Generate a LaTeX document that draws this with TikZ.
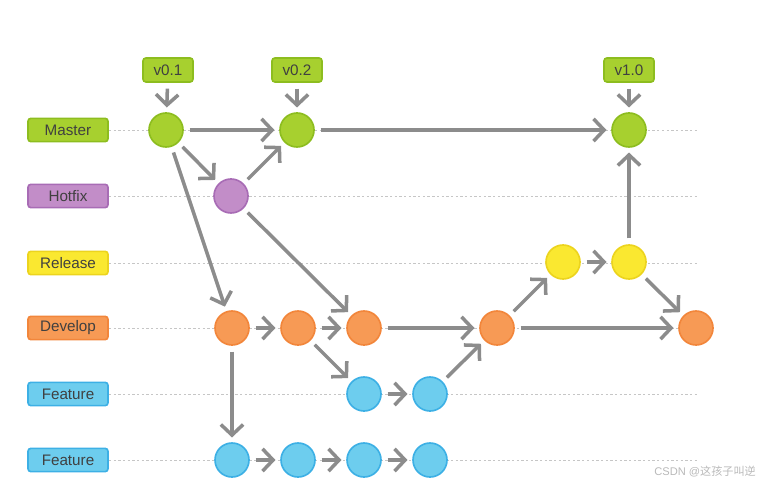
\documentclass[tikz,border=0pt]{standalone}
\usepackage{fontspec}
\setmainfont{Liberation Sans}
\newfontfamily\cjkfont{Noto Sans CJK SC}
\usetikzlibrary{arrows.meta}
\usetikzlibrary{backgrounds}

\definecolor{greenfill}{HTML}{A7D02F}
\definecolor{greenline}{HTML}{8DBD1F}
\definecolor{purplefill}{HTML}{C28DC8}
\definecolor{purpleline}{HTML}{A86CB5}
\definecolor{yellowfill}{HTML}{FAE830}
\definecolor{yellowline}{HTML}{ECD41E}
\definecolor{orangefill}{HTML}{F79A55}
\definecolor{orangeline}{HTML}{F2863B}
\definecolor{bluefill}{HTML}{6DCDEE}
\definecolor{blueline}{HTML}{3DB0E5}
\definecolor{arrowgray}{HTML}{8C8C8C}

\begin{document}
\begin{tikzpicture}[x=0.03cm,y=-0.03cm,
	commit/.style={circle,draw,line width=1.4pt,minimum size=1.02cm,inner sep=0pt},
	branch/.style={rounded corners=2.5pt,draw,line width=1.4pt,minimum width=2.4cm,
		minimum height=0.7cm,inner sep=0pt,text=black!75,font=\fontsize{13}{15}\selectfont},
	tag/.style={branch,minimum width=1.5cm,minimum height=0.72cm,fill=greenfill,draw=greenline},
	flow/.style={-{Straight Barb[length=9pt,width=19pt]},line width=3pt,draw=arrowgray,
		shorten >=4pt,shorten <=5pt},
	guide/.style={draw=gray!45,line width=0.6pt,dash pattern=on 2pt off 2pt}]
	
	\useasboundingbox (0,0) rectangle (764,487);
	
	% branch labels on the left
	\node[branch,fill=greenfill,draw=greenline]   (master)  at (68,130) {Master};
	\node[branch,fill=purplefill,draw=purpleline] (hotfix)  at (68,196) {Hotfix};
	\node[branch,fill=yellowfill,draw=yellowline] (release) at (68,263) {Release};
	\node[branch,fill=orangefill,draw=orangeline] (develop) at (68,328) {Develop};
	\node[branch,fill=bluefill,draw=blueline]     (featA)   at (68,394) {Feature};
	\node[branch,fill=bluefill,draw=blueline]     (featB)   at (68,460) {Feature};
	
	\coordinate (master-end)  at (697,130);
	\coordinate (hotfix-end)  at (697,196);
	\coordinate (release-end) at (697,263);
	\coordinate (develop-end) at (697,328);
	\coordinate (featA-end)   at (697,394);
	\coordinate (featB-end)   at (697,460);
	
	% tags
	\node[tag] (v01) at (168,70) {v0.1};
	\node[tag] (v02) at (297,70) {v0.2};
	\node[tag] (v10) at (629,70) {v1.0};
	
	% commits
	\node[commit,fill=greenfill,draw=greenline] (m1) at (166,130) {};
	\node[commit,fill=greenfill,draw=greenline] (m2) at (297,130) {};
	\node[commit,fill=greenfill,draw=greenline] (m3) at (629,130) {};
	
	\node[commit,fill=purplefill,draw=purpleline] (h1) at (231,196) {};
	
	\node[commit,fill=yellowfill,draw=yellowline] (r1) at (563,262) {};
	\node[commit,fill=yellowfill,draw=yellowline] (r2) at (629,262) {};
	
	\node[commit,fill=orangefill,draw=orangeline] (d1) at (232,328) {};
	\node[commit,fill=orangefill,draw=orangeline] (d2) at (298,328) {};
	\node[commit,fill=orangefill,draw=orangeline] (d3) at (364,328) {};
	\node[commit,fill=orangefill,draw=orangeline] (d4) at (497,328) {};
	\node[commit,fill=orangefill,draw=orangeline] (d5) at (696,328) {};
	
	\node[commit,fill=bluefill,draw=blueline] (f1) at (364,394) {};
	\node[commit,fill=bluefill,draw=blueline] (f2) at (430,394) {};
	
	\node[commit,fill=bluefill,draw=blueline] (g1) at (232,460) {};
	\node[commit,fill=bluefill,draw=blueline] (g2) at (298,460) {};
	\node[commit,fill=bluefill,draw=blueline] (g3) at (364,460) {};
	\node[commit,fill=bluefill,draw=blueline] (g4) at (430,460) {};
	
	\begin{scope}[on background layer]
		\foreach \b in {master,hotfix,release,develop,featA,featB}
		\draw[guide] (\b.east) -- (\b-end);
	\end{scope}
	
	\path[flow]
	(v01) edge (m1)
	(v02) edge (m2)
	(v10) edge (m3)
	(m1) edge (m2)
	edge (h1)
	edge (d1)
	(h1) edge (m2)
	edge (d3)
	(m2) edge (m3)
	(d1) edge (d2)
	edge (g1)
	(d2) edge (d3)
	edge (f1)
	(d3) edge (d4)
	(f1) edge (f2)
	(f2) edge (d4)
	(d4) edge (r1)
	edge (d5)
	(r1) edge (r2)
	(r2) edge (m3)
	edge (d5)
	(g1) edge (g2)
	(g2) edge (g3)
	(g3) edge (g4);
	
	\node[anchor=east,text=gray!55,font=\fontsize{9.5}{11}\selectfont] (mark) at (760,472)
	{CSDN @\cjkfont 这孩子叫逆};
\end{tikzpicture}
\end{document}
